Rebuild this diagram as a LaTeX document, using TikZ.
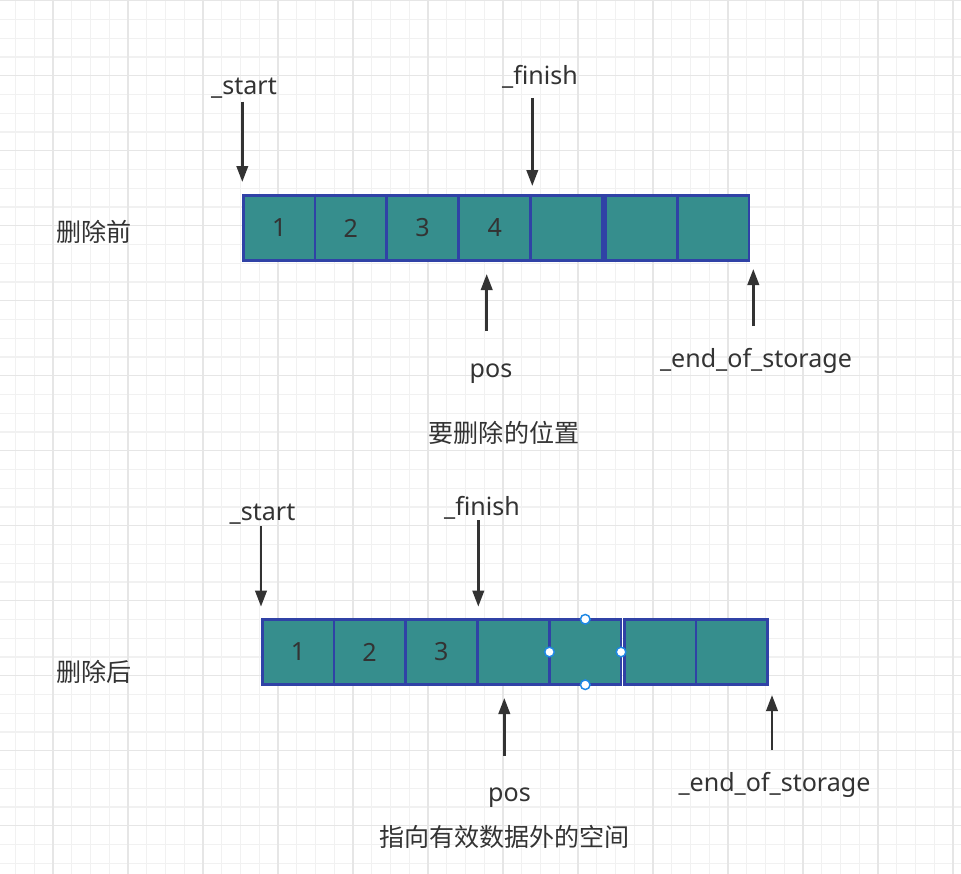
\documentclass[tikz,border=0pt]{standalone}
\usepackage{fontspec}
\setmainfont{Noto Sans}
\newfontfamily\cjk{Noto Sans CJK SC}
\usepackage{tikz}
\usetikzlibrary{positioning,arrows.meta,calc}
\definecolor{CellFill}{HTML}{368E8D}
\definecolor{CellLine}{HTML}{3042A6}
\definecolor{TextGray}{HTML}{333333}
\definecolor{HandleBlue}{HTML}{1E88E5}
\definecolor{GridMinor}{HTML}{F1F1F1}
\definecolor{GridMajor}{HTML}{E6E6E6}
\newcommand{\lblsize}{\fontsize{18.8pt}{22pt}\selectfont}

\tikzset{
  cell/.style={draw=CellLine, fill=CellFill, line width=2pt,
               minimum width=53.7pt, minimum height=49.1pt,
               inner sep=0pt, outer sep=0pt, text=TextGray, font=\lblsize},
  lbl/.style={inner sep=0pt, text=TextGray, font=\lblsize, anchor=base},
  note/.style={inner sep=0pt, text=TextGray, font=\lblsize\cjk},
  ptr/.style={draw=TextGray, line width=2pt, -{Triangle[length=12pt,width=8.5pt]}},
  handle/.style={circle, draw=HandleBlue, fill=white, line width=1.1pt,
                 minimum size=7.2pt, inner sep=0pt},
  gridminor/.style={draw=GridMinor, line width=0.9pt},
  gridmajor/.style={draw=GridMajor, line width=0.9pt}
}

\begin{document}
\begin{tikzpicture}[x=0.75pt,y=-0.75pt]
  \useasboundingbox (0,0) rectangle (961,874);
  \fill[white] (0,0) rectangle (961,874);

  % background grid
  \foreach \i in {0,...,50}
    \draw[gridminor] (15.5+18.75*\i,0) -- (15.5+18.75*\i,874);
  \foreach \j in {0,...,46}
    \draw[gridminor] (0,0.7+18.75*\j) -- (961,0.7+18.75*\j);
  \foreach \i in {0,...,12}
    \draw[gridmajor] (53+75*\i,0) -- (53+75*\i,874);
  \foreach \j in {0,...,11}
    \draw[gridmajor] (0,0.7+75*\j) -- (961,0.7+75*\j);

  % before erase
  \node[note] (before) at (94,232) {删除前};
  \node[cell] (a1) at (279.3,228) {1};
  \node[cell, right=0pt of a1] (a2) {2};
  \node[cell, right=0pt of a2] (a3) {3};
  \node[cell, right=0.6pt of a3] (a4) {4};
  \node[cell, right=0pt of a4] (a5) {};
  \node[cell, right=2.6pt of a5] (a6) {};
  \node[cell, right=0pt of a6] (a7) {};

  \node[lbl] (startA) at (244,95) {\_start};
  \node[lbl] (finishA) at (540,85) {\_finish};
  \node[lbl] (posA) at (491,377) {pos};
  \node[lbl] (eosA) at (756,367) {\_end\_of\_storage};
  \node[note] (whereA) at (504,433) {要删除的位置};

  \coordinate (startA0) at (242.3,101.7);
  \coordinate (startA1) at (242.3,182);
  \coordinate (finishA0) at (532.3,98);
  \coordinate (finishA1) at (532.3,186);
  \coordinate (posA0) at (486.7,331);
  \coordinate (posA1) at (486.7,274);
  \coordinate (eosA0) at (753.3,326);
  \coordinate (eosA1) at (753.3,269);
  \draw[ptr] (startA0) -- (startA1);
  \draw[ptr] (finishA0) -- (finishA1);
  \draw[ptr] (posA0) -- (posA1);
  \draw[ptr] (eosA0) -- (eosA1);

  % after erase
  \node[note] (after) at (94,672) {删除后};
  \node[cell] (b1) at (298.05,652) {1};
  \node[cell, right=0pt of b1] (b2) {2};
  \node[cell, right=0pt of b2] (b3) {3};
  \node[cell, right=0.6pt of b3] (b4) {};
  \node[cell, right=0pt of b4] (b5) {};
  \node[cell, right=2.6pt of b5] (b6) {};
  \node[cell, right=0pt of b6] (b7) {};

  \node[handle] (hN) at (b5.north) {};
  \node[handle] (hS) at (b5.south) {};
  \node[handle] (hW) at (b5.west) {};
  \node[handle] (hE) at (b5.east) {};

  \node[lbl] (startB) at (262.5,520) {\_start};
  \node[lbl] (finishB) at (482,515) {\_finish};
  \node[lbl] (posB) at (509.5,801) {pos};
  \node[lbl] (eosB) at (774.5,791) {\_end\_of\_storage};
  \node[note] (whereB) at (504.5,837) {指向有效数据外的空间};

  \coordinate (startB0) at (261,526);
  \coordinate (startB1) at (261,606.7);
  \coordinate (finishB0) at (478.3,520);
  \coordinate (finishB1) at (478.3,606.7);
  \coordinate (posB0) at (504.3,756);
  \coordinate (posB1) at (504.3,698);
  \coordinate (eosB0) at (772,750);
  \coordinate (eosB1) at (772,695);
  \draw[ptr] (startB0) -- (startB1);
  \draw[ptr] (finishB0) -- (finishB1);
  \draw[ptr] (posB0) -- (posB1);
  \draw[ptr] (eosB0) -- (eosB1);
\end{tikzpicture}
\end{document}
